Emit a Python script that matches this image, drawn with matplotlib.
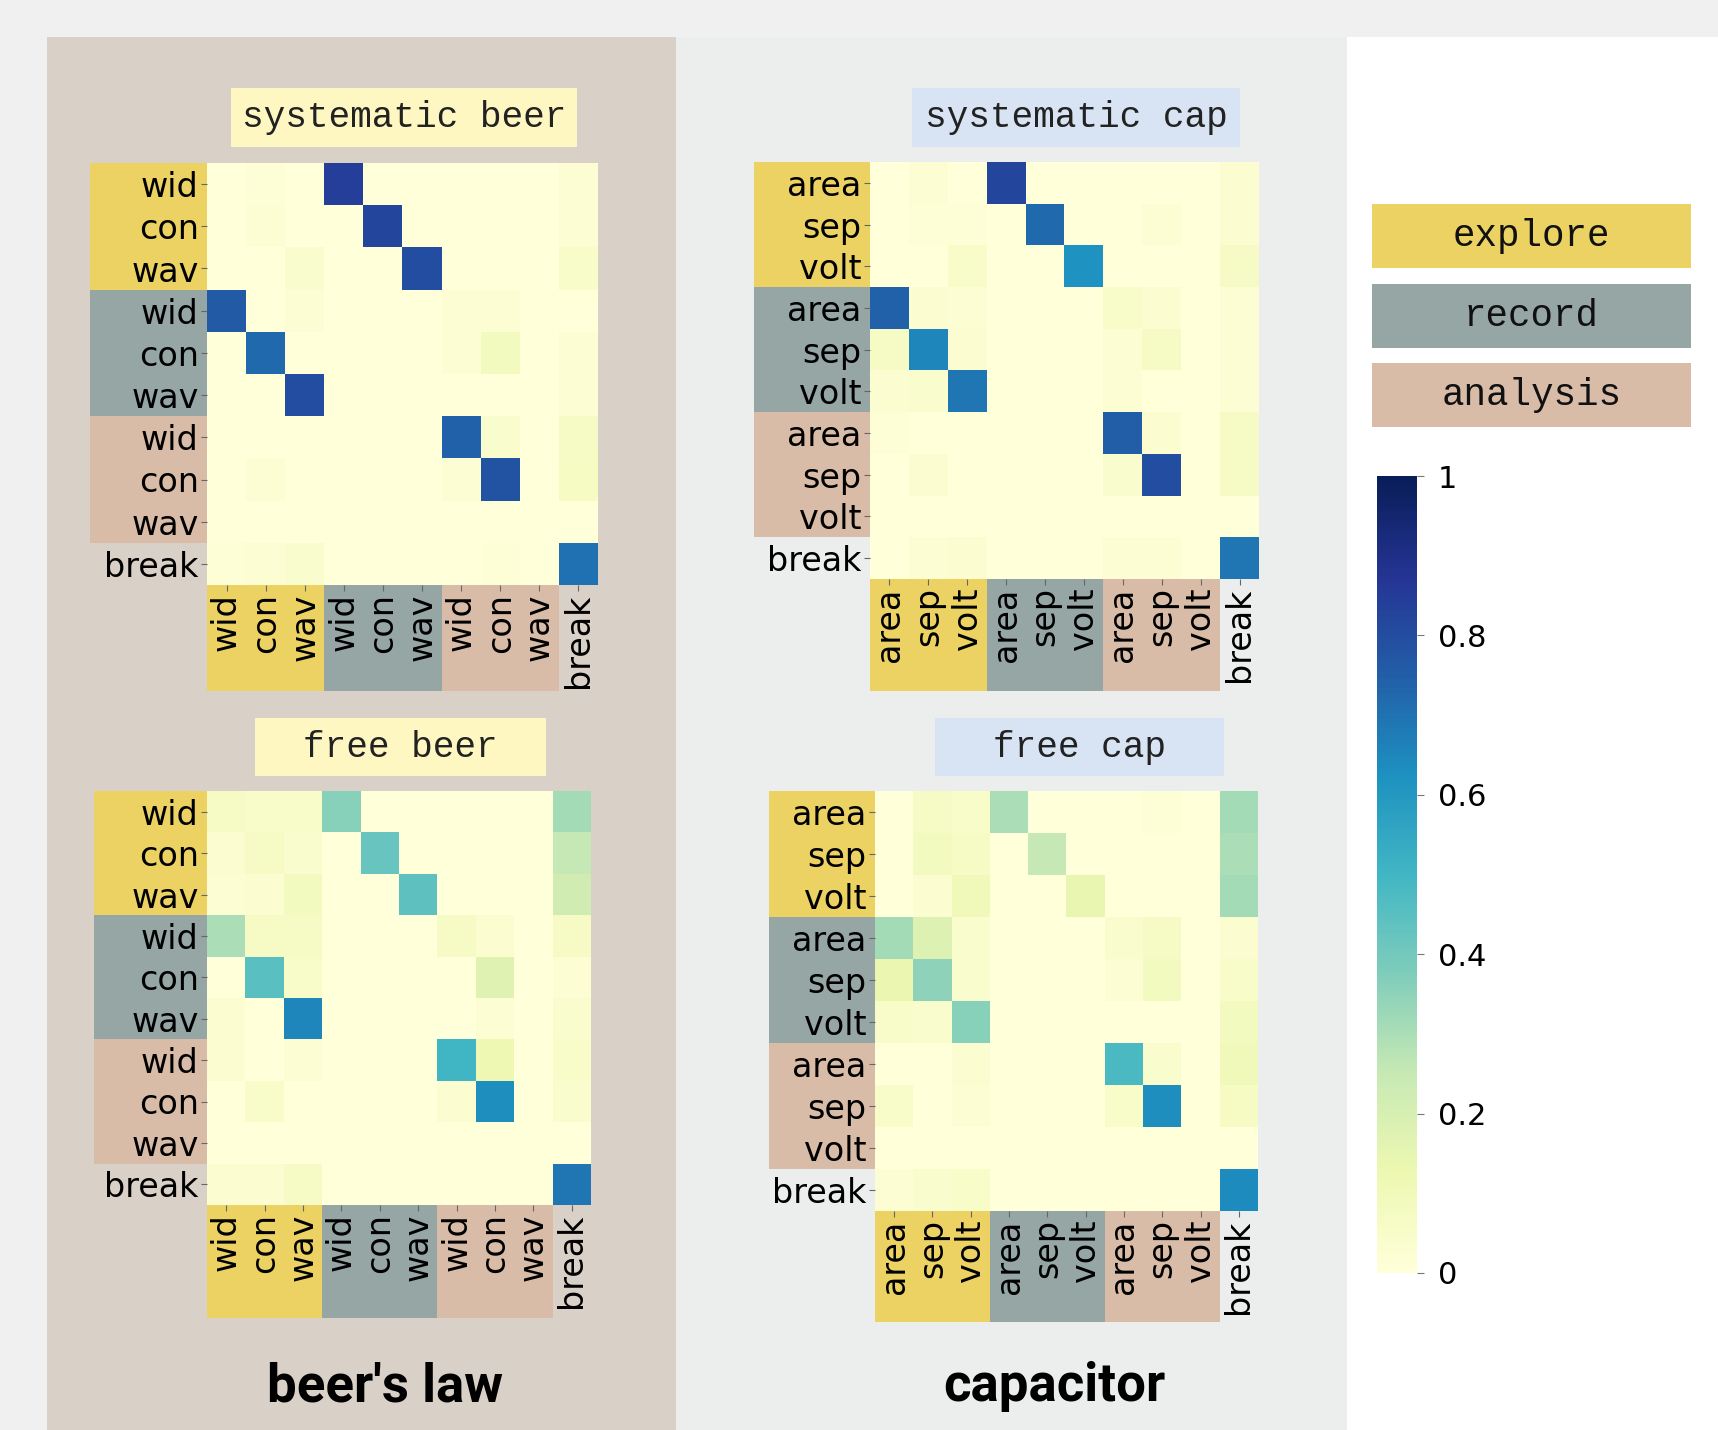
import numpy as np
import matplotlib
matplotlib.use("Agg")
import matplotlib.pyplot as plt
from matplotlib.patches import Rectangle
from matplotlib.cm import ScalarMappable
from matplotlib.colors import Normalize

# etiquetas
beer_labels = ["wid", "con", "wav", "wid", "con", "wav", "wid", "con", "wav", "break"]
cap_labels = ["area", "sep", "volt", "area", "sep", "volt", "area", "sep", "volt", "break"]
phases = ["explore", "record", "analysis"]
phase_colors = ["#ebd262", "#96a6a5", "#d9bca8"]

# matrizes de transicao (linha = de, coluna = para)
sys_beer = [
    [0.00, 0.01, 0.00, 0.84, 0.00, 0.00, 0.00, 0.00, 0.00, 0.02],
    [0.00, 0.02, 0.00, 0.00, 0.82, 0.00, 0.00, 0.00, 0.00, 0.02],
    [0.00, 0.00, 0.04, 0.00, 0.00, 0.80, 0.00, 0.00, 0.00, 0.05],
    [0.76, 0.00, 0.02, 0.00, 0.00, 0.00, 0.02, 0.02, 0.00, 0.00],
    [0.00, 0.72, 0.00, 0.00, 0.00, 0.00, 0.02, 0.08, 0.00, 0.02],
    [0.00, 0.00, 0.80, 0.00, 0.00, 0.00, 0.00, 0.00, 0.00, 0.02],
    [0.00, 0.00, 0.00, 0.00, 0.00, 0.00, 0.74, 0.04, 0.00, 0.06],
    [0.00, 0.02, 0.00, 0.00, 0.00, 0.00, 0.02, 0.78, 0.00, 0.07],
    [0.00, 0.00, 0.00, 0.00, 0.00, 0.00, 0.00, 0.00, 0.00, 0.00],
    [0.01, 0.02, 0.04, 0.00, 0.00, 0.00, 0.00, 0.01, 0.00, 0.70],
]
free_beer = [
    [0.06, 0.05, 0.05, 0.36, 0.00, 0.00, 0.00, 0.00, 0.00, 0.31],
    [0.03, 0.06, 0.04, 0.00, 0.42, 0.00, 0.00, 0.00, 0.00, 0.25],
    [0.02, 0.03, 0.08, 0.00, 0.00, 0.44, 0.00, 0.00, 0.00, 0.22],
    [0.30, 0.06, 0.06, 0.00, 0.00, 0.00, 0.06, 0.03, 0.00, 0.06],
    [0.00, 0.45, 0.05, 0.00, 0.00, 0.00, 0.00, 0.17, 0.00, 0.02],
    [0.03, 0.00, 0.65, 0.00, 0.00, 0.00, 0.00, 0.02, 0.00, 0.04],
    [0.03, 0.00, 0.02, 0.00, 0.00, 0.00, 0.50, 0.12, 0.00, 0.05],
    [0.00, 0.05, 0.00, 0.00, 0.00, 0.00, 0.03, 0.63, 0.00, 0.04],
    [0.00, 0.00, 0.00, 0.00, 0.00, 0.00, 0.00, 0.00, 0.00, 0.00],
    [0.03, 0.03, 0.06, 0.00, 0.00, 0.00, 0.00, 0.00, 0.00, 0.69],
]
sys_cap = [
    [0.00, 0.02, 0.00, 0.82, 0.00, 0.00, 0.00, 0.00, 0.00, 0.03],
    [0.00, 0.01, 0.01, 0.00, 0.72, 0.00, 0.00, 0.02, 0.00, 0.03],
    [0.00, 0.00, 0.05, 0.00, 0.00, 0.62, 0.00, 0.00, 0.00, 0.06],
    [0.74, 0.03, 0.02, 0.00, 0.00, 0.00, 0.05, 0.03, 0.00, 0.02],
    [0.06, 0.65, 0.03, 0.00, 0.00, 0.00, 0.02, 0.06, 0.00, 0.02],
    [0.03, 0.04, 0.69, 0.00, 0.00, 0.00, 0.02, 0.00, 0.00, 0.02],
    [0.01, 0.00, 0.00, 0.00, 0.00, 0.00, 0.75, 0.03, 0.00, 0.06],
    [0.00, 0.03, 0.00, 0.00, 0.00, 0.00, 0.04, 0.80, 0.00, 0.06],
    [0.00, 0.00, 0.00, 0.00, 0.00, 0.00, 0.00, 0.00, 0.00, 0.00],
    [0.00, 0.02, 0.03, 0.00, 0.00, 0.00, 0.02, 0.02, 0.00, 0.69],
]
free_cap = [
    [0.00, 0.06, 0.05, 0.30, 0.00, 0.00, 0.00, 0.01, 0.00, 0.31],
    [0.00, 0.08, 0.06, 0.00, 0.25, 0.00, 0.00, 0.00, 0.00, 0.30],
    [0.00, 0.03, 0.10, 0.00, 0.00, 0.14, 0.00, 0.00, 0.00, 0.31],
    [0.31, 0.18, 0.04, 0.00, 0.00, 0.00, 0.04, 0.06, 0.00, 0.03],
    [0.13, 0.35, 0.04, 0.00, 0.00, 0.00, 0.02, 0.08, 0.00, 0.05],
    [0.05, 0.04, 0.36, 0.00, 0.00, 0.00, 0.00, 0.00, 0.00, 0.08],
    [0.00, 0.00, 0.03, 0.00, 0.00, 0.00, 0.48, 0.04, 0.00, 0.10],
    [0.05, 0.00, 0.02, 0.00, 0.00, 0.00, 0.05, 0.63, 0.00, 0.07],
    [0.00, 0.00, 0.00, 0.00, 0.00, 0.00, 0.00, 0.00, 0.00, 0.00],
    [0.02, 0.04, 0.05, 0.00, 0.00, 0.00, 0.00, 0.00, 0.00, 0.64],
]

W, H = 1718, 1430
fig = plt.figure(figsize=(W / 100, H / 100), dpi=100)
fig.patch.set_facecolor("#f0f0f0")


def caixa(x0, y0, x1, y1, cor, z=-1):
    # retangulo em pixels (origem no topo)
    r = Rectangle((x0 / W, 1 - y1 / H), (x1 - x0) / W, (y1 - y0) / H,
                  transform=fig.transFigure, facecolor=cor, edgecolor="none", zorder=z)
    fig.add_artist(r)


def eixo(x0, y0, x1, y1):
    return fig.add_axes([x0 / W, 1 - y1 / H, (x1 - x0) / W, (y1 - y0) / H])


# fundos
caixa(47, 37, 676, H, "#d9d0c7", -3)
caixa(676, 37, 1347, H, "#eceeed", -3)
caixa(1347, 37, W, H, "#ffffff", -3)

mono = "Liberation Mono"


def titulo(x0, y0, x1, y1, txt, cor):
    caixa(x0, y0, x1, y1, cor, -2)
    fig.text((x0 + x1) / 2 / W, 1 - (y0 + y1) / 2 / H, txt, family=mono,
             fontsize=26, ha="center", va="center", color="#222222")


def heatmap(M, labels, box, left_x, bottom_y):
    x0, y0, x1, y1 = box
    ax = eixo(x0, y0, x1, y1)
    M = np.array(M)
    n = len(labels)
    ax.imshow(M, cmap="YlGnBu", vmin=0, vmax=1, aspect="auto", interpolation="nearest")
    ax.set_xticks(range(n))
    ax.set_yticks(range(n))
    ax.set_xticklabels(labels, rotation=90)
    ax.set_yticklabels(labels)
    ax.tick_params(length=4, width=0.8, color="#666666", pad=2, labelsize=24)
    for s in ax.spines.values():
        s.set_visible(False)
    # caixas coloridas das fases
    ch = (y1 - y0) / n
    cw = (x1 - x0) / n
    for g, cor in enumerate(phase_colors):
        caixa(left_x, y0 + 3 * g * ch, x0, y0 + (3 * g + 3) * ch, cor, -2)
        caixa(x0 + 3 * g * cw, y1, x0 + (3 * g + 3) * cw, bottom_y, cor, -2)
    return ax


titulo(231, 88, 577, 147, "systematic beer", "#fff7c2")
titulo(912, 88, 1240, 147, "systematic cap", "#d8e4f3")
titulo(255, 718, 546, 776, "free beer", "#fff7c2")
titulo(935, 718, 1224, 776, "free cap", "#d8e4f3")

heatmap(sys_beer, beer_labels, (207, 163, 598, 585), 90, 691)
heatmap(sys_cap, cap_labels, (870, 162, 1259, 579), 754, 691)
heatmap(free_beer, beer_labels, (207, 791, 591, 1205), 94, 1318)
heatmap(free_cap, cap_labels, (875, 791, 1258, 1211), 769, 1322)

fig.text(385 / W, 1 - 1387 / H, "beer's law", family="Roboto", weight="bold",
         fontsize=38, ha="center", va="center", color="black")
fig.text(1054 / W, 1 - 1387 / H, "capacitor", family="Roboto", weight="bold",
         fontsize=38, ha="center", va="center", color="black")

# legenda das fases
for i, (nome, cor) in enumerate(zip(phases, phase_colors)):
    y0 = 204 + i * 79.5
    caixa(1372, y0, 1691, y0 + 64, cor, -2)
    fig.text((1372 + 1691) / 2 / W, 1 - (y0 + 32) / H, nome, family=mono,
             fontsize=27, ha="center", va="center", color="#111111")

# barra de cores
cax = eixo(1377, 476, 1417, 1273)
cb = fig.colorbar(ScalarMappable(norm=Normalize(0, 1), cmap="YlGnBu"), cax=cax)
cb.outline.set_visible(False)
cb.set_ticks([0, 0.2, 0.4, 0.6, 0.8, 1])
cb.set_ticklabels(["0", "0.2", "0.4", "0.6", "0.8", "1"])
cax.tick_params(length=5, width=0.8, color="#777777", pad=10, labelsize=22)

plt.savefig("out.png", dpi=100, facecolor=fig.get_facecolor())
plt.close()
